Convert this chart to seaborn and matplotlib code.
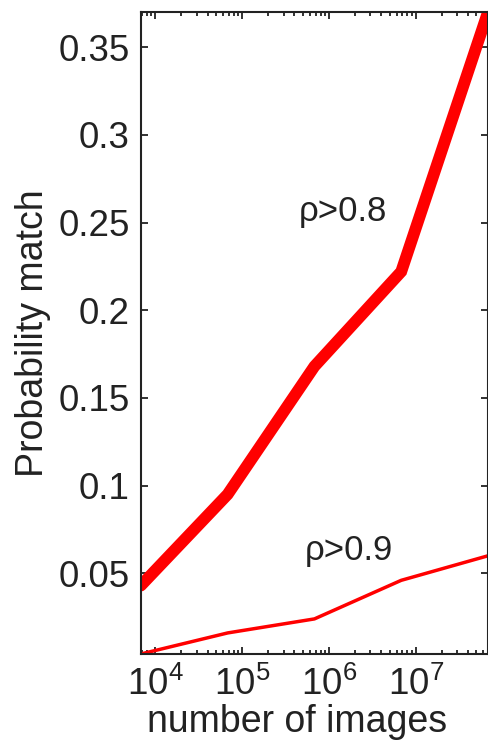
import numpy as np
import pandas as pd
import matplotlib
matplotlib.use("Agg")
import matplotlib.pyplot as plt
import matplotlib.ticker as mticker
import seaborn as sns

# data
n_images = [6.8e3, 6.8e4, 6.8e5, 6.8e6, 6.8e7]
p_rho08 = [0.043, 0.095, 0.168, 0.222, 0.37]
p_rho09 = [0.004, 0.016, 0.024, 0.046, 0.060]
ytick_vals = [0.05, 0.1, 0.15, 0.2, 0.25, 0.3, 0.35]
xtick_vals = [1e4, 1e5, 1e6, 1e7]

df = pd.DataFrame({"n": n_images, "r08": p_rho08, "r09": p_rho09})

sns.set_style("ticks")
plt.rcParams["font.family"] = ["Liberation Sans", "DejaVu Sans"]
plt.rcParams["mathtext.fontset"] = "custom"
plt.rcParams["mathtext.rm"] = "Liberation Sans"
plt.rcParams["mathtext.it"] = "Liberation Sans"
plt.rcParams["mathtext.bf"] = "Liberation Sans"

fig = plt.figure(figsize=(4.89, 7.43), dpi=100)
ax = fig.add_axes([0.288, 0.1198, 0.71, 0.864])

sns.lineplot(data=df, x="n", y="r08", ax=ax, color="#ff0000", linewidth=8.5,
             solid_joinstyle="miter")
sns.lineplot(data=df, x="n", y="r09", ax=ax, color="#ff0000", linewidth=2.5)

ax.set_xscale("log")
ax.set_xlim(n_images[0], n_images[-1])
ax.set_ylim(p_rho09[0], p_rho08[-1])
ax.set_xticks(xtick_vals)
ax.xaxis.set_minor_locator(mticker.LogLocator(base=10, subs=np.arange(2, 10), numticks=20))
ax.set_yticks(ytick_vals)
ax.yaxis.set_major_formatter(mticker.FormatStrFormatter("%g"))

ax.tick_params(which="both", direction="in", top=True, right=True, width=1.3,
               labelsize=26.5, colors="#222222")
ax.tick_params(which="major", length=5, pad=8)
ax.tick_params(which="minor", length=3)
ax.tick_params(axis="x", which="major", pad=9)
for s in ax.spines.values():
    s.set_linewidth(1.5)
    s.set_color("#222222")

ax.set_xlabel("number of images", fontsize=27, color="#222222", labelpad=1, x=0.45)
ax.set_ylabel("Probability match", fontsize=27, color="#222222", labelpad=5)

ax.text(4.5e5, 0.256, "ρ>0.8", fontsize=25, color="#222222", va="center", ha="left")
ax.text(5.2e5, 0.063, "ρ>0.9", fontsize=25, color="#222222", va="center", ha="left")

fig.savefig("out.png", dpi=100)
